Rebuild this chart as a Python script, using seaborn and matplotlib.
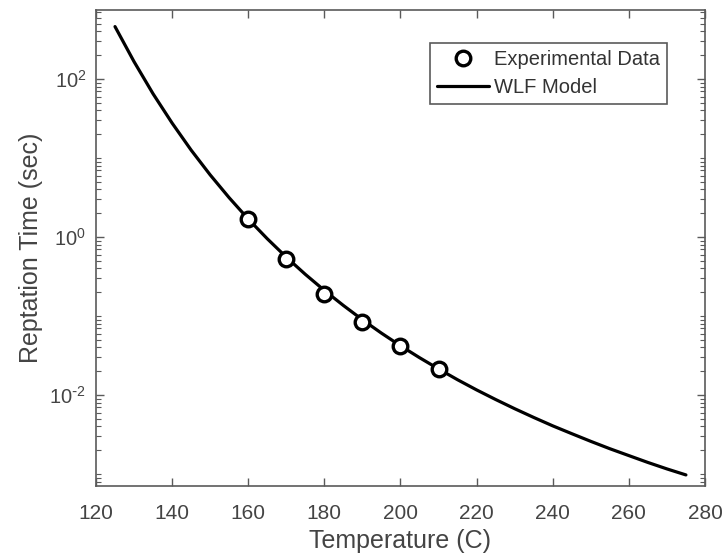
import numpy as np
import pandas as pd
import matplotlib
matplotlib.use("Agg")
import matplotlib.pyplot as plt
import matplotlib.ticker as mticker
import seaborn as sns

# Data
model_temp = [125, 130, 135, 140, 145, 150, 155, 160, 165, 170, 175, 180, 185, 190,
              195, 200, 205, 210, 215, 220, 225, 230, 235, 240, 245, 250, 255, 260,
              265, 270, 275]
model_tau = [461, 166, 65.0, 27.7, 12.6, 6.12, 3.14, 1.69, 0.951, 0.556, 0.337, 0.211,
             0.136, 0.0897, 0.0607, 0.0420, 0.0297, 0.0214, 0.0156, 0.0116, 0.00877,
             0.00671, 0.00520, 0.00407, 0.00324, 0.00259, 0.00209, 0.00171, 0.00140,
             0.00116, 0.000973]
exp_temp = [160, 170, 180, 190, 200, 210]
exp_tau = [1.69, 0.52, 0.19, 0.084, 0.042, 0.0214]

x_ticks = [120, 140, 160, 180, 200, 220, 240, 260, 280]
y_major = [1e-2, 1e0, 1e2]

sns.set_theme(style="ticks")
plt.rcParams['font.family'] = ['Liberation Sans', 'DejaVu Sans']
plt.rcParams['mathtext.default'] = 'regular'
plt.rcParams['axes.unicode_minus'] = False

axis_color = '#5a5a5a'
text_color = '#444444'

fig = plt.figure(figsize=(7.26, 5.59), dpi=100)
ax = fig.add_axes([0.1322, 0.1306, 0.971 - 0.1322, 0.982 - 0.1306])

df_model = pd.DataFrame({'T': model_temp, 'tau': model_tau})
df_exp = pd.DataFrame({'T': exp_temp, 'tau': exp_tau})

sns.lineplot(data=df_model, x='T', y='tau', ax=ax, color='black', linewidth=2.3,
             label='WLF Model', zorder=2)
ax.plot(df_exp['T'], df_exp['tau'], linestyle='none', marker='o', markersize=10.5,
        markerfacecolor='white', markeredgecolor='black', markeredgewidth=2.4,
        label='Experimental Data', zorder=3)

ax.set_yscale('log')
ax.set_xlim(120, 280)
ax.set_ylim(10 ** -3.152, 10 ** 2.873)


def log_fmt(v, p):
    e = int(round(np.log10(v)))
    if e < 0:
        return r'$10^{\text{-}%d}$' % (-e)
    return r'$10^{%d}$' % e


ax.xaxis.set_major_locator(mticker.FixedLocator(x_ticks))
ax.yaxis.set_major_locator(mticker.FixedLocator(y_major))
ax.yaxis.set_major_formatter(mticker.FuncFormatter(log_fmt))
ax.yaxis.set_minor_locator(mticker.LogLocator(base=10, subs=np.arange(1, 10), numticks=50))
ax.yaxis.set_minor_formatter(mticker.NullFormatter())

ax.tick_params(which='both', direction='in', top=True, right=True, colors=axis_color,
               labelcolor=text_color)
ax.tick_params(which='major', length=6, width=1)
ax.tick_params(which='minor', length=3.5, width=0.8)
ax.tick_params(axis='x', pad=13, labelsize=15)
ax.tick_params(axis='y', pad=7, labelsize=14.5)
for s in ax.spines.values():
    s.set_color(axis_color)
    s.set_linewidth(1.2)
    s.set_visible(True)

ax.set_xlabel('Temperature (C)', fontsize=18, color=text_color, labelpad=4)
ax.set_ylabel('Reptation Time (sec)', fontsize=18, color=text_color, labelpad=5)

handles, labels = ax.get_legend_handles_labels()
order = [labels.index('Experimental Data'), labels.index('WLF Model')]
leg = ax.legend([handles[i] for i in order], [labels[i] for i in order],
                loc='upper right', bbox_to_anchor=(0.938, 0.931), fontsize=14.5,
                frameon=True, fancybox=False, edgecolor=axis_color, framealpha=1,
                handlelength=2.6, handletextpad=0.25, borderpad=0.35, labelspacing=0.45,
                borderaxespad=0)
leg.get_frame().set_linewidth(1.2)
for t in leg.get_texts():
    t.set_color('#333333')

fig.savefig('out.png', dpi=100)
